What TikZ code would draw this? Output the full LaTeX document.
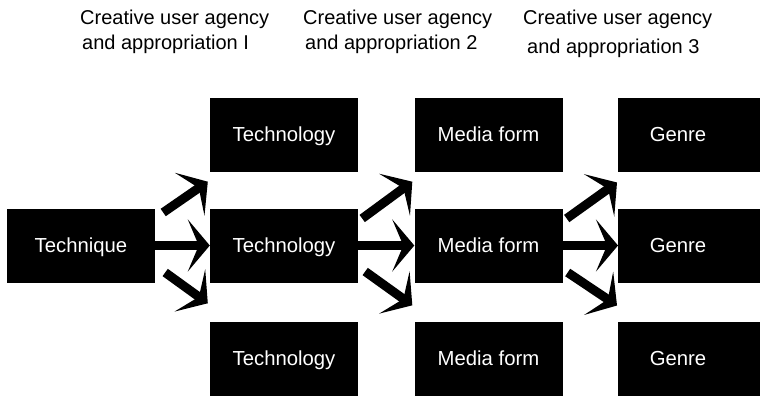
\documentclass[tikz,border=0pt]{standalone}
\usepackage{fontspec}
\setmainfont{Liberation Sans}
\usetikzlibrary{arrows.meta}
\begin{document}
\begin{tikzpicture}[x=1pt,y=-1pt,
  boxfont/.style={font=\fontsize{20.3}{22}\selectfont,text height=14.5pt,text depth=0pt},
  box/.style={fill=black,text=white,minimum width=148pt,minimum height=74pt,inner sep=0pt,boxfont},
  lbl/.style={anchor=base west,inner sep=0pt,font=\fontsize{20}{24}\selectfont},
  arr/.style={line width=9pt,-{Stealth[length=22pt,width=52pt,inset=11pt]}}]
\useasboundingbox (0,0) rectangle (760,396);
% top labels
\node[lbl] (la1) at (80,25) {Creative user agency};
\node[lbl] (lb1) at (82,50) {and appropriation I};
\node[lbl] (la2) at (303,25) {Creative user agency};
\node[lbl] (lb2) at (305,50) {and appropriation 2};
\node[lbl] (la3) at (523,25) {Creative user agency};
\node[lbl] (lb3) at (527,53) {and appropriation 3};
% boxes
\node[box] (tq) at (81,245.5) {Technique};
\node[box] (t1) at (284,134.5) {Technology};
\node[box] (t2) at (284,245.5) {Technology};
\node[box] (t3) at (284,358.5) {Technology};
\node[box] (m1) at (488.5,134.5) {Media form};
\node[box] (m2) at (488.5,245.5) {Media form};
\node[box] (m3) at (488.5,358.5) {Media form};
\fill (618,97.5) rectangle (760,171.5);
\fill (618,208.5) rectangle (760,282.5);
\fill (618,321.5) rectangle (760,396);
\node[text=white,boxfont,inner sep=0pt] (g1) at (678,134.5) {Genre};
\node[text=white,boxfont,inner sep=0pt] (g2) at (678,245.5) {Genre};
\node[text=white,boxfont,inner sep=0pt] (g3) at (678,358.5) {Genre};
\coordinate (g1w) at (618,171.5);
\coordinate (g2w) at (618,245.5);
\coordinate (g3w) at (618,321.5);
% arrows group 1
\draw[arr] (tq.east) -- (t2.west);
\draw[arr] ([shift={(8,-33)}]tq.east) -- ([shift={(-2,10)}]t1.south west);
\draw[arr] ([shift={(10,27)}]tq.east) -- ([shift={(-2,-18)}]t3.north west);
% arrows group 2
\draw[arr] (t2.east) -- (m2.west);
\draw[arr] ([shift={(4,-27)}]t2.east) -- ([shift={(-2,10)}]m1.south west);
\draw[arr] ([shift={(7,26)}]t2.east) -- ([shift={(-2,-16)}]m3.north west);
% arrows group 3
\draw[arr] (m2.east) -- (g2w);
\draw[arr] ([shift={(4,-27)}]m2.east) -- ([shift={(-1,11)}]g1w);
\draw[arr] ([shift={(5,27)}]m2.east) -- ([shift={(-1,-16)}]g3w);
\end{tikzpicture}
\end{document}
